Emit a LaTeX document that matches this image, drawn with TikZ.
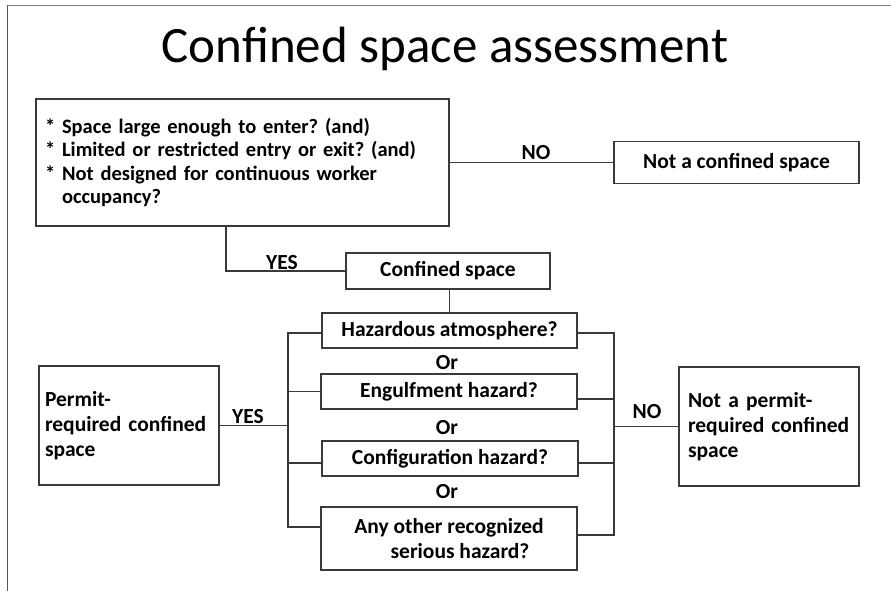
\documentclass[tikz,border=0pt]{standalone}
\usepackage{fontspec}
\setmainfont{Carlito}
\definecolor{linegray}{HTML}{3A3A3A}
\definecolor{framegray}{HTML}{7F7F7F}
\definecolor{frameleft}{HTML}{555555}
\newcommand{\bodyfont}{\fontsize{21.5}{25}\selectfont\bfseries\frenchspacing}
\newcommand{\questfont}{\fontsize{20.5}{23.5}\selectfont\bfseries\frenchspacing}
\begin{document}
\begin{tikzpicture}[x=1pt,y=-1pt,
  box/.style={draw=linegray, line width=1.2pt, rectangle, inner sep=0pt,
              font=\bodyfont, align=center},
  lbox/.style={box, align=left},
  wire/.style={draw=linegray, line width=1.2pt},
  lbl/.style={font=\bodyfont, inner sep=0pt}]
\useasboundingbox (0,0) rectangle (891,591);

% slide frame
\draw[framegray, line width=1.6pt] (7,5.5) -- (891,5.5);
\draw[frameleft, line width=1.6pt] (7.5,5) -- (7.5,591);

% title
\node[font=\fontsize{51}{60}\selectfont, inner sep=0pt] (title) at (445,49)
  {Confined space assessment};

% first question and its outcomes
\node[lbox, font=\questfont, minimum width=413pt, minimum height=127pt,
      text width=395pt]
  (q) at (242.5,162.5)
  {* Space large enough to enter? (and)\\
   {}* Limited or restricted entry or exit? (and)\\
   {}* Not designed for continuous worker\\
   \hphantom{*\ }occupancy?\\[4pt]};
\node[box, minimum width=245pt, minimum height=42pt] (nc) at (736.5,162.5)
  {Not a confined space};
\node[box, minimum width=204pt, minimum height=36pt] (cs) at (448,271)
  {Confined space};

% hazard questions
\node[box, minimum width=255pt, minimum height=35pt] (h1) at (449.5,330.5)
  {Hazardous atmosphere?};
\node[box, minimum width=256pt, minimum height=35pt] (h2) at (449,391.5)
  {Engulfment hazard?};
\node[box, minimum width=256pt, minimum height=35pt] (h3) at (450,458.5)
  {Configuration hazard?};
\node[box, minimum width=256pt, minimum height=63pt] (h4) at (449,538.5)
  {Any other recognized\\\hspace*{22pt}serious hazard?};

\node[lbl] (or1) at (447,363) {Or};
\node[lbl] (or2) at (447,428) {Or};
\node[lbl] (or3) at (447,492) {Or};

% final outcomes
\node[lbox, minimum width=180pt, minimum height=119pt, text width=168pt]
  (p) at (129,425.5) {Permit-\\required confined\\space};
\node[lbox, minimum width=180pt, minimum height=119pt, text width=162pt]
  (np) at (769,426.5) {Not a permit-\\required confined\\space};

% bus lines
\coordinate (qy) at (226,272);
\coordinate (lbus) at (288,0);
\coordinate (rbus) at (614,0);

\draw[wire] (q.east) -- (nc.west);
\draw[wire] (q.south -| qy) -- (qy |- cs.west) -- (cs.west);
\draw[wire] (cs.south -| h1.north) -- (h1.north);

\draw[wire] ([yshift=-2.5pt]h1.west) -- ([yshift=-2.5pt]h1.west -| lbus)
  -- ([yshift=11.5pt]h4.west -| lbus) -- ([yshift=11.5pt]h4.west);
\draw[wire] (h2.west) -- (h2.west -| lbus);
\draw[wire] ([yshift=-4.5pt]h3.west) -- ([yshift=-4.5pt]h3.west -| lbus);
\draw[wire] (p.east) -- (p.east -| lbus);

\draw[wire] ([yshift=-2.5pt]h1.east) -- ([yshift=-2.5pt]h1.east -| rbus)
  -- ([yshift=3.5pt]h4.east -| rbus) -- ([yshift=3.5pt]h4.east);
\draw[wire] ([yshift=-7.5pt]h2.east) -- ([yshift=-7.5pt]h2.east -| rbus);
\draw[wire] ([yshift=-4.5pt]h3.east) -- ([yshift=-4.5pt]h3.east -| rbus);
\draw[wire] (np.west -| rbus) -- (np.west);

% branch labels
\node[lbl] (no1) at (536,153) {NO};
\node[lbl] (yes1) at (282,263) {YES};
\node[lbl] (yes2) at (248,417) {YES};
\node[lbl] (no2) at (647,412) {NO};
\end{tikzpicture}
\end{document}
